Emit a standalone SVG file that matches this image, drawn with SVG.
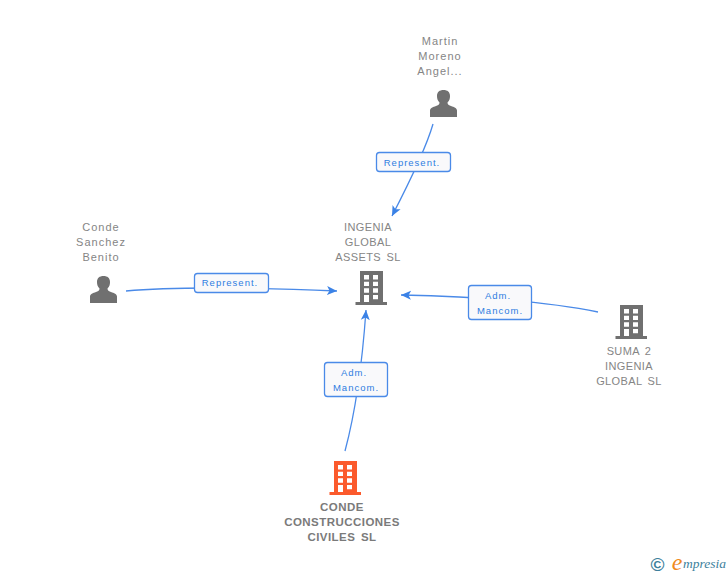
<svg xmlns="http://www.w3.org/2000/svg" xmlns:xlink="http://www.w3.org/1999/xlink" width="728" height="575" viewBox="0 0 728 575">
<style>
text{font-family:"Liberation Sans",Arial,sans-serif;text-anchor:middle}
.n{font-size:11px;letter-spacing:1px;fill:#858585}
.u{font-size:11px;letter-spacing:.4px;word-spacing:2px;fill:#858585}
.b{font-size:11.500px;font-weight:bold;letter-spacing:.45px;word-spacing:2px;fill:#7a7a7a}
.l{font-size:9.500px;letter-spacing:1px;fill:#2f7de1}
.c{fill:none;stroke:#4a8ae8;stroke-width:1.300}
.box{fill:#f9f9fb;stroke:#4a8ae8;stroke-width:1.300}
</style>
<defs>
<marker id="a" markerUnits="userSpaceOnUse" markerWidth="12" markerHeight="12" refX="10" refY="5" orient="auto"><path d="M0 0.500L10 5L0 9.500L2.500 5Z" fill="#3b82e6"/></marker>
<path id="w" fill-rule="evenodd" d="M360 271H383V302H387V305H355.500V302H360ZM364 275V279.500H369V275ZM373 275V279.500H378V275ZM364 281.700V286H369V281.700ZM373 281.700V286H378V281.700ZM364 288.300V292.700H369V288.300ZM373 288.300V292.700H378V288.300ZM364 295V302H369V295ZM373 295V299.300H378V295Z"/>
<path id="p" d="M0 27V20.500C0 18 3 17 6 16C9 15 9.500 14 9.500 12.500C7.500 10.500 7 8.500 7 6C7 2 9.500 0 13.500 0S20 2 20 6C20 8.500 19.500 10.500 17.500 12.500C17.500 14 18 15 21 16C24 17 27 18 27 20.500V27Z"/>
</defs>
<g id="connectors">
<path class="c" d="M433 124Q425 152 392 216" marker-end="url(#a)"/>
<path class="c" d="M126 291Q190 285 337 291" marker-end="url(#a)"/>
<path class="c" d="M598 312Q530 298 401 295" marker-end="url(#a)"/>
<path class="c" d="M345 451Q360 395 366 310" marker-end="url(#a)"/>
</g>
<g id="edge-label-1"><rect class="box" x="376.500" y="152.500" width="74" height="19" rx="3"/><text class="l" x="412" y="166">Represent.</text></g>
<g id="edge-label-2"><rect class="box" x="194.500" y="273.500" width="74" height="19" rx="3"/><text class="l" x="230" y="286">Represent.</text></g>
<g id="edge-label-3"><rect class="box" x="468.500" y="285.500" width="63" height="34" rx="3"/><text class="l" x="498" y="299">Adm.</text><text class="l" x="500" y="314">Mancom.</text></g>
<g id="edge-label-4"><rect class="box" x="324.500" y="362.500" width="63" height="34" rx="3"/><text class="l" x="354" y="376">Adm.</text><text class="l" x="356" y="391">Mancom.</text></g>
<g id="node-martin"><text class="n" x="440" y="45">Martin</text><text class="n" x="440" y="60">Moreno</text><text class="n" x="440" y="75">Angel...</text><use xlink:href="#p" x="430" y="90" fill="#707070"/></g>
<g id="node-conde"><text class="n" x="101" y="231">Conde</text><text class="n" x="101" y="246">Sanchez</text><text class="n" x="101" y="261">Benito</text><use xlink:href="#p" x="90" y="276" fill="#707070"/></g>
<g id="node-ingenia"><text class="u" x="368" y="231">INGENIA</text><text class="u" x="368" y="246">GLOBAL</text><text class="u" x="368" y="261">ASSETS SL</text><use xlink:href="#w" fill="#707070"/></g>
<g id="node-suma"><use xlink:href="#w" x="260" y="34" fill="#707070"/><text class="u" x="629" y="355">SUMA 2</text><text class="u" x="629" y="370">INGENIA</text><text class="u" x="629" y="385">GLOBAL SL</text></g>
<g id="node-construcciones"><use xlink:href="#w" x="-26" y="190" fill="#fb5a2c"/><text class="b" x="342" y="511">CONDE</text><text class="b" x="342" y="526">CONSTRUCCIONES</text><text class="b" x="342" y="541">CIVILES SL</text></g>
<g id="watermark"><text x="657.500" y="570.500" style="font-size:19px;font-weight:bold" fill="#3d7f9c">©</text><text x="677" y="570" style="font-family:'Liberation Serif',serif;font-size:24px;font-style:italic" fill="#f08a1d">e</text><text x="704.500" y="568" style="font-family:'Liberation Serif',serif;font-size:13.500px;font-style:italic" fill="#3d7f9c">mpresia</text></g>
</svg>
